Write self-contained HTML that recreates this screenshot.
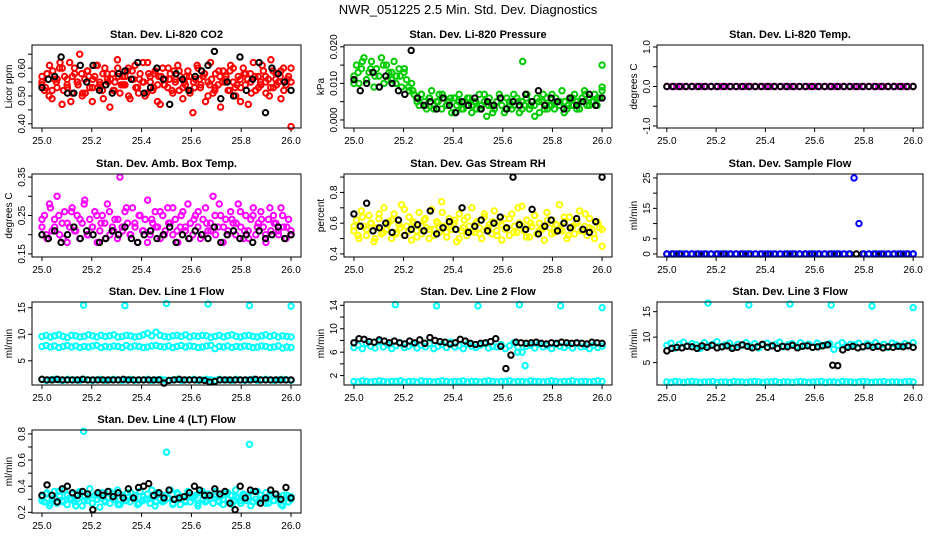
<!DOCTYPE html>
<html><head><meta charset="utf-8"><style>
html,body{margin:0;padding:0;background:#fff;}
svg{display:block;font-family:"Liberation Sans",sans-serif;}
</style></head><body>
<svg id="chart" width="936" height="540" viewBox="0 0 936 540" xmlns="http://www.w3.org/2000/svg">
<rect width="936" height="540" fill="#fff"/>
<text x="468" y="14" text-anchor="middle" font-size="13">NWR_051225  2.5 Min. Std. Dev. Diagnostics</text>
</svg>
<script>
const timeStart = 25.0, timeEnd = 26.0;
const xTicks = [25.0, 25.2, 25.4, 25.6, 25.8, 26.0];
const xTickLabels = ["25.0","25.2","25.4","25.6","25.8","26.0"];
const outlierTimes = [25.167,25.333,25.5,25.667,25.833,26.0];

const co2Red = [0.55,0.52,0.58,0.61,0.49,0.56,0.53,0.60,0.47,0.57,0.54,0.62,0.51,0.58,0.55,0.65,0.50,0.56,0.59,0.53,0.48,0.57,0.61,0.54,0.52,0.60,0.56,0.46,0.58,0.55,0.63,0.51,0.57,0.54,0.59,0.49,0.56,0.61,0.53,0.58,0.55,0.50,0.62,0.57,0.52,0.59,0.54,0.47,0.60,0.56,0.53,0.58,0.51,0.55,0.61,0.57,0.49,0.54,0.59,0.52,0.44,0.56,0.60,0.53,0.57,0.48,0.55,0.62,0.51,0.58,0.54,0.46,0.59,0.56,0.52,0.61,0.55,0.50,0.57,0.53,0.60,0.58,0.47,0.55,0.62,0.52,0.57,0.54,0.59,0.51,0.56,0.63,0.53,0.58,0.55,0.49,0.60,0.54,0.57,0.39];
const co2Red2 = [0.57,0.53,0.50,0.59,0.55,0.62,0.52,0.56,0.48,0.60,0.54,0.58,0.51,0.57,0.53,0.61,0.55,0.49,0.58,0.56,0.52,0.60,0.54,0.57,0.50,0.59,0.53,0.56,0.62,0.51,0.55,0.58,0.48,0.57,0.54,0.60,0.52,0.56,0.59,0.53,0.57,0.51,0.55,0.61,0.54,0.58,0.50,0.56,0.53,0.59,0.55,0.57,0.52,0.60,0.54,0.48,0.58,0.56,0.51,0.57,0.53,0.61,0.55,0.50,0.59,0.54,0.57,0.52,0.56,0.60];
const co2Red3 = [0.54,0.58,0.52,0.56,0.60,0.53,0.57,0.55,0.51,0.59,0.56,0.53,0.58,0.55,0.52,0.57,0.54,0.60,0.56,0.51,0.55,0.58,0.53,0.57,0.54,0.56,0.59,0.52,0.55,0.57,0.53,0.56,0.58,0.54,0.52,0.57,0.55,0.59,0.53,0.56,0.54,0.58,0.52,0.55,0.57,0.53,0.56,0.59,0.54,0.55];
const co2Black = [0.53,0.56,0.57,0.64,0.51,0.51,0.61,0.55,0.61,0.52,0.54,0.51,0.58,0.59,0.56,0.62,0.51,0.53,0.60,0.56,0.47,0.58,0.56,0.52,0.57,0.59,0.61,0.66,0.49,0.55,0.50,0.64,0.52,0.56,0.62,0.44,0.60,0.58,0.55,0.52];

const presGreen = [0.012,0.015,0.010,0.014,0.017,0.011,0.013,0.016,0.009,0.014,0.012,0.017,0.010,0.015,0.013,0.011,0.016,0.012,0.014,0.009,0.013,0.011,0.008,0.010,0.007,0.006,0.004,0.007,0.005,0.003,0.006,0.008,0.004,0.005,0.007,0.003,0.006,0.004,0.005,0.002,0.006,0.004,0.007,0.003,0.005,0.004,0.006,0.002,0.005,0.003,0.007,0.004,0.005,0.001,0.006,0.004,0.003,0.005,0.007,0.004,0.002,0.006,0.005,0.003,0.004,0.006,0.002,0.005,0.004,0.007,0.003,0.005,0.004,0.006,0.002,0.005,0.003,0.006,0.004,0.007,0.003,0.005,0.004,0.008,0.005,0.003,0.006,0.004,0.007,0.005,0.003,0.006,0.008,0.004,0.006,0.005,0.007,0.004,0.006,0.009];
const presGreen2 = [0.010,0.013,0.016,0.011,0.014,0.012,0.009,0.015,0.011,0.013,0.010,0.012,0.014,0.009,0.008,0.005,0.007,0.004,0.006,0.003,0.005,0.007,0.004,0.006,0.002,0.005,0.003,0.006,0.004,0.005,0.003,0.007,0.004,0.002,0.005,0.006,0.003,0.004,0.007,0.005,0.003,0.006,0.004,0.001,0.005,0.007,0.003,0.004,0.006,0.005,0.002,0.004,0.006,0.003,0.005,0.007,0.004,0.005,0.006,0.008];
const presGreenOutT = [25.68, 26.0];
const presGreenOutV = [0.016, 0.015];
const presBlack = [0.011,0.008,0.010,0.013,0.009,0.012,0.010,0.008,0.007,0.019,0.006,0.004,0.005,0.003,0.006,0.004,0.002,0.005,0.004,0.006,0.003,0.005,0.004,0.006,0.003,0.005,0.004,0.007,0.005,0.008,0.004,0.006,0.005,0.003,0.006,0.004,0.005,0.007,0.004,0.006];

const tempMagenta = Array(51).fill(0);
const tempBlack = Array(40).fill(0);

const boxMagenta = [0.22,0.25,0.19,0.28,0.21,0.24,0.30,0.20,0.23,0.26,0.18,0.22,0.27,0.21,0.25,0.19,0.23,0.29,0.20,0.24,0.22,0.26,0.18,0.21,0.25,0.23,0.28,0.20,0.22,0.24,0.19,0.35,0.21,0.26,0.23,0.20,0.27,0.22,0.18,0.25,0.21,0.24,0.29,0.20,0.23,0.26,0.22,0.19,0.25,0.21,0.27,0.23,0.20,0.24,0.18,0.22,0.26,0.21,0.28,0.23,0.20,0.25,0.22,0.19,0.24,0.27,0.21,0.23,0.30,0.20,0.22,0.25,0.18,0.24,0.21,0.26,0.23,0.20,0.28,0.22,0.19,0.25,0.21,0.24,0.27,0.20,0.23,0.26,0.22,0.18,0.24,0.21,0.25,0.23,0.20,0.27,0.22,0.19,0.24,0.21];
const boxMagenta2 = [0.24,0.20,0.27,0.22,0.25,0.19,0.23,0.26,0.21,0.24,0.28,0.20,0.22,0.25,0.23,0.19,0.26,0.21,0.24,0.22,0.27,0.20,0.23,0.25,0.21,0.18,0.24,0.22,0.26,0.20,0.23,0.27,0.21,0.25,0.22,0.19,0.24,0.26,0.20,0.23,0.21,0.25,0.28,0.22,0.20,0.24,0.23,0.26,0.21,0.19,0.25,0.22,0.24,0.20,0.27,0.23,0.21,0.25,0.22,0.20];
const boxBlack = [0.20,0.19,0.21,0.18,0.20,0.22,0.19,0.21,0.20,0.18,0.19,0.21,0.20,0.22,0.19,0.18,0.20,0.21,0.19,0.20,0.22,0.18,0.20,0.19,0.21,0.20,0.19,0.22,0.18,0.20,0.21,0.19,0.20,0.18,0.21,0.19,0.20,0.22,0.19,0.20];

const rhYellow = [0.55,0.62,0.50,0.68,0.58,0.52,0.65,0.60,0.48,0.57,0.63,0.53,0.70,0.56,0.61,0.50,0.66,0.54,0.59,0.72,0.52,0.58,0.64,0.49,0.60,0.55,0.67,0.53,0.62,0.57,0.50,0.69,0.56,0.61,0.54,0.74,0.58,0.51,0.63,0.56,0.60,0.48,0.66,0.55,0.62,0.52,0.58,0.70,0.54,0.61,0.57,0.50,0.64,0.56,0.59,0.53,0.68,0.55,0.61,0.49,0.63,0.57,0.52,0.66,0.58,0.54,0.60,0.71,0.55,0.62,0.51,0.58,0.65,0.53,0.60,0.56,0.49,0.67,0.57,0.62,0.54,0.59,0.72,0.55,0.61,0.50,0.64,0.57,0.53,0.60,0.68,0.55,0.58,0.52,0.63,0.56,0.50,0.61,0.57,0.45];
const rhYellow2 = [0.58,0.52,0.64,0.56,0.60,0.50,0.66,0.54,0.59,0.62,0.53,0.57,0.69,0.55,0.61,0.51,0.58,0.63,0.56,0.52,0.60,0.67,0.54,0.58,0.62,0.50,0.57,0.64,0.55,0.60,0.53,0.66,0.57,0.61,0.52,0.59,0.56,0.63,0.54,0.70,0.58,0.51,0.60,0.65,0.55,0.57,0.62,0.53,0.59,0.56,0.64,0.52,0.58,0.61,0.55,0.66,0.57,0.53,0.60,0.56];
const rhBlack = [0.66,0.58,0.73,0.55,0.57,0.60,0.54,0.62,0.52,0.56,0.59,0.55,0.68,0.53,0.57,0.61,0.56,0.70,0.54,0.58,0.62,0.55,0.60,0.64,0.57,0.90,0.59,0.56,0.69,0.53,0.58,0.62,0.55,0.60,0.57,0.63,0.56,0.54,0.61,0.90];

const flowBlue = [0,0,0,0,0,0,0,0,0,0,0,0,0,0,0,0,0,0,0,0,0,0,0,0,0,0,0,0,0,0,0,0,0,0,0,0,0,0,25,10,0,0,0,0,0,0,0,0,0,0,0];
const flowBlack = Array(40).fill(0);

const l1Upper = [9.6,9.8,9.5,9.7,9.9,9.6,9.4,9.8,9.7,9.5,9.6,9.9,9.7,9.5,9.8,9.6,9.7,9.9,9.5,9.6,9.8,9.7,9.5,9.6,9.9,10.2,9.7,10.4,9.8,9.6,9.5,9.7,9.8,9.6,9.9,9.5,9.7,9.6,9.8,9.7,9.4,9.6,9.8,9.5,9.7,9.9,9.6,9.5,9.7,9.8,9.6,9.5,9.7,9.9,9.6,9.8,9.5,9.7,9.6,9.5];
const l1Lower = [7.7,7.9,7.6,7.8,7.5,7.7,7.9,7.6,7.8,7.5,7.7,7.6,7.8,7.9,7.5,7.7,7.6,7.8,7.7,7.5,7.9,7.6,7.8,7.7,7.5,7.6,7.8,7.9,7.7,7.6,7.8,7.5,7.7,7.9,7.6,7.8,7.7,7.5,7.6,7.8,7.9,7.3,7.7,7.6,7.8,7.5,7.7,7.6,7.8,7.7,7.5,7.6,7.8,7.7,7.5,7.6,7.8,7.4,7.6,7.5];
const l1Bottom = [1.5,1.3,1.4,1.5,1.4,1.3,1.5,1.4,1.4,1.3,1.5,1.4,1.3,1.4,1.5,1.3,1.4,1.5,1.4,1.3,1.4,1.5,1.3,1.4,1.4,1.5,1.3,1.4,1.5,1.4,1.3,1.4,1.5,1.3,1.4,1.4,1.5,1.3,1.4,1.5,1.4,1.3,1.5,1.4,1.4,1.3,1.5,1.4,1.3,1.4,1.5,1.3,1.4,1.5,1.4,1.3,1.4,1.5,1.4,1.3];
const l1Black = [1.5,1.4,1.4,1.5,1.4,1.4,1.4,1.4,1.5,1.4,1.4,1.4,1.4,1.4,1.4,1.4,1.5,1.4,1.4,1.4,1.4,1.4,1.4,1.4,0.8,1.3,1.4,1.5,1.4,1.4,1.4,1.4,1.3,1.0,1.1,1.4,1.4,1.4,1.4,1.4,1.4,1.4,1.5,1.4,1.4,1.4,1.4,1.4,1.4,1.4];
const l1Out = [15.5,15.4,15.8,15.7,15.4,15.3];

const l2Main = [6.8,7.2,6.6,7.5,7.0,6.7,7.8,6.9,7.3,6.6,7.1,7.6,6.8,7.0,7.4,6.7,7.2,6.9,7.5,6.6,7.0,7.3,6.8,7.7,6.9,7.1,6.6,7.4,7.0,6.8,7.2,7.5,6.7,7.0,6.9,7.3,6.6,7.1,7.6,6.8,6.0,7.0,7.2,6.7,7.4,6.9,7.1,6.6,7.3,7.0,6.8,7.2,6.7,7.5,6.9,7.0,6.6,7.2,6.8,7.0];
const l2Low = [1.0,0.9,1.1,1.0,0.9,1.0,1.1,1.0,0.9,1.0,1.0,1.1,0.9,1.0,1.0,0.9,1.1,1.0,1.0,0.9,1.0,1.1,1.0,0.9,1.0,1.0,1.1,0.9,1.0,1.0,0.9,1.0,1.1,1.0,0.9,1.0,1.0,1.1,0.9,1.0,1.0,0.9,1.1,1.0,1.0,0.9,1.0,1.1,1.0,0.9,1.0,1.0,1.1,0.9,1.0,1.0,0.9,1.0,1.1,1.0];
const l2Black = [7.6,8.3,8.2,7.8,7.7,8.1,7.9,7.6,7.9,7.6,7.4,7.9,7.6,8.1,7.5,8.5,8.0,7.8,7.7,7.4,7.6,8.2,7.9,7.5,7.3,7.5,7.6,7.8,8.3,7.0,3.2,5.5,7.7,7.6,7.5,7.6,7.7,7.5,7.4,7.6,7.5,7.7,7.6,7.5,7.6,7.5,7.4,7.7,7.6,7.5];
const l2CyanDipT = [25.66, 25.69];
const l2CyanDipV = [6.0, 3.7];
const l2Out = [14.1,13.9,13.9,14.1,13.9,13.6];

const l3Main = [8.4,8.8,7.9,8.6,9.0,8.2,8.7,8.5,7.8,8.9,8.3,8.6,9.1,8.1,8.5,8.8,8.0,8.6,8.4,8.9,8.2,8.7,7.9,8.5,8.8,8.3,8.6,9.0,8.1,8.5,8.7,8.2,8.9,8.4,8.6,8.0,8.8,8.3,8.5,8.7,7.6,8.4,8.9,8.2,8.6,8.5,8.8,8.1,8.7,8.4,8.9,8.3,8.6,8.0,8.8,8.5,8.2,8.7,8.4,8.9];
const l3Low = [1.2,1.1,1.3,1.2,1.1,1.2,1.3,1.2,1.1,1.2,1.2,1.3,1.1,1.2,1.2,1.1,1.3,1.2,1.2,1.1,1.2,1.3,1.2,1.1,1.2,1.2,1.3,1.1,1.2,1.2,1.1,1.2,1.3,1.2,1.1,1.2,1.2,1.3,1.1,1.2,1.2,1.1,1.3,1.2,1.2,1.1,1.2,1.3,1.2,1.1,1.2,1.2,1.3,1.1,1.2,1.2,1.1,1.2,1.3,1.2];
const l3Black = [7.3,7.8,8.0,7.9,8.2,8.1,7.8,8.3,8.0,8.4,7.9,8.1,8.3,7.8,8.0,8.5,8.2,7.9,8.1,8.6,8.0,8.3,7.8,8.2,8.1,8.4,7.9,8.2,8.3,8.0,8.1,8.3,8.5,4.5,4.4,7.5,8.0,8.2,7.9,8.1,8.3,8.0,8.2,7.9,8.1,8.0,8.2,8.1,8.3,8.0];
const l3Out = [16.7,16.3,16.5,16.3,16.1,15.8];

const l4Cyan = [0.32,0.28,0.35,0.25,0.30,0.36,0.27,0.33,0.29,0.37,0.26,0.31,0.34,0.28,0.30,0.36,0.25,0.32,0.29,0.38,0.27,0.33,0.30,0.24,0.35,0.29,0.31,0.27,0.34,0.30,0.37,0.26,0.32,0.29,0.35,0.28,0.31,0.33,0.26,0.36,0.29,0.30,0.34,0.27,0.32,0.25,0.35,0.30,0.28,0.33,0.31,0.37,0.27,0.30,0.34,0.26,0.32,0.29,0.36,0.28,0.31,0.33,0.25,0.35,0.30,0.28,0.34,0.31,0.27,0.36,0.29,0.32,0.26,0.35,0.30,0.33,0.28,0.37,0.31,0.27,0.34,0.29,0.32,0.25,0.36,0.30,0.28,0.33,0.31,0.35,0.27,0.32,0.29,0.34,0.30,0.26,0.33,0.31,0.28,0.32];
const l4Cyan2 = [0.29,0.34,0.27,0.31,0.36,0.28,0.33,0.30,0.25,0.35,0.29,0.32,0.27,0.34,0.31,0.28,0.36,0.30,0.26,0.33,0.29,0.35,0.31,0.27,0.32,0.30,0.37,0.28,0.34,0.29,0.31,0.26,0.35,0.30,0.28,0.33,0.32,0.27,0.36,0.29,0.31,0.34,0.28,0.30,0.35,0.26,0.32,0.29,0.33,0.31,0.28,0.36,0.30,0.27,0.34,0.29,0.32,0.25,0.33,0.30];
const l4Black = [0.33,0.41,0.33,0.28,0.38,0.40,0.35,0.33,0.36,0.34,0.22,0.35,0.33,0.36,0.32,0.35,0.31,0.38,0.31,0.39,0.40,0.42,0.33,0.35,0.31,0.37,0.30,0.31,0.32,0.35,0.40,0.37,0.33,0.33,0.38,0.34,0.36,0.27,0.22,0.40,0.31,0.37,0.36,0.27,0.31,0.37,0.34,0.30,0.39,0.31];
const l4OutT = [25.167, 25.5, 25.833];
const l4OutV = [0.82, 0.66, 0.72];

const svg = document.getElementById('chart');
const NS = 'http://www.w3.org/2000/svg';
const colLeft = [32, 344, 657], colRight = [301, 612, 923];
const rowTop = [45, 174, 302, 430], boxH = 83;

function mk(tag, attrs, parent) {
  const e = document.createElementNS(NS, tag);
  for (const k in attrs) e.setAttribute(k, attrs[k]);
  (parent || svg).appendChild(e);
  return e;
}

function panel(cfg) {
  const g = mk('g', {});
  
  
  const L = colLeft[cfg.col], R = colRight[cfg.col], T = rowTop[cfg.row], B = T + boxH;
  const w = R - L, xlo = timeStart - 0.04 * (timeEnd - timeStart), xhi = timeEnd + 0.04 * (timeEnd - timeStart);
  const xs = t => L + (t - xlo) / (xhi - xlo) * w;
  const ys = v => B - (v - cfg.ylo) / (cfg.yhi - cfg.ylo) * boxH;
  const title = mk('text', {x: (L + R) / 2, y: T - 7, 'text-anchor': 'middle', 'font-size': 11, 'font-weight': 'bold'}, g);
  title.textContent = cfg.title;
  
  
  const yl = mk('text', {transform: `translate(${L - 20},${(T + B) / 2}) rotate(-90)`, 'text-anchor': 'middle', 'font-size': 10}, g);
  yl.textContent = cfg.ylab;
  
  
  xTicks.forEach((t, i) => {
    mk('line', {x1: xs(t), x2: xs(t), y1: B, y2: B + 4, stroke: '#000'}, g);
    const tl = mk('text', {x: xs(t), y: B + 16, 'text-anchor': 'middle', 'font-size': 10}, g);
    tl.textContent = xTickLabels[i];
    
    
  });
  cfg.yticks.forEach((v, i) => {
    mk('line', {x1: L - 4, x2: L, y1: ys(v), y2: ys(v), stroke: '#000'}, g);
    if (cfg.ylabels[i]) {
      const tl = mk('text', {transform: `translate(${L - 7},${ys(v)}) rotate(-90)`, 'text-anchor': 'middle', 'font-size': 10}, g);
      tl.textContent = cfg.ylabels[i];
      
      
    }
  });
  cfg.series.forEach(s => {
    const vals = s.v;
    vals.forEach((v, i) => {
      const t = s.t ? s.t[i] : timeStart + (timeEnd - timeStart) * i / (vals.length - 1);
      const c = mk('circle', {cx: xs(t), cy: ys(v), r: 2.7, fill: 'none', stroke: s.c, 'stroke-width': 2}, g);
      
      
    });
  });
  const box = mk('rect', {x: L, y: T, width: w, height: boxH, fill: 'none', stroke: '#000', 'stroke-width': 1}, g);
  
  
}

const RED='#ff0000', BLK='#000000', GRN='#00cc00', MAG='#ff00ff', YEL='#ffff00', BLU='#0000ff', CYN='#00ffff';
panel({name:'panel-co2', col:0,row:0,title:'Stan. Dev. Li-820 CO2',ylab:'Licor ppm',ylo:0.385,yhi:0.683,
  yticks:[0.40,0.45,0.50,0.55,0.60,0.65],ylabels:['0.40','','0.50','','0.60',''],
  series:[{v:co2Red,c:RED},{v:co2Red2,c:RED},{v:co2Red3,c:RED},{v:co2Black,c:BLK}]});
panel({name:'panel-pressure', col:1,row:0,title:'Stan. Dev. Li-820 Pressure',ylab:'kPa',ylo:-0.0022,yhi:0.0205,
  yticks:[0,0.005,0.010,0.015,0.020],ylabels:['0.000','','0.010','','0.020'],
  series:[{v:presGreen,c:GRN},{v:presGreen2,c:GRN},{v:presGreenOutV,t:presGreenOutT,c:GRN},{v:presBlack,c:BLK}]});
panel({name:'panel-temp', col:2,row:0,title:'Stan. Dev. Li-820 Temp.',ylab:'degrees C',ylo:-1.05,yhi:1.05,
  yticks:[-1,-0.5,0,0.5,1],ylabels:['-1.0','','0.0','','1.0'],
  series:[{v:tempMagenta,c:MAG},{v:tempBlack,c:BLK}]});
panel({name:'panel-amb-box-temp', col:0,row:1,title:'Stan. Dev. Amb. Box Temp.',ylab:'degrees C',ylo:0.142,yhi:0.358,
  yticks:[0.15,0.20,0.25,0.30,0.35],ylabels:['0.15','','0.25','','0.35'],
  series:[{v:boxMagenta,c:MAG},{v:boxMagenta2,c:MAG},{v:boxBlack,c:BLK}]});
panel({name:'panel-gas-rh', col:1,row:1,title:'Stan. Dev. Gas Stream RH',ylab:'percent',ylo:0.38,yhi:0.92,
  yticks:[0.4,0.5,0.6,0.7,0.8,0.9],ylabels:['0.4','','0.6','','0.8',''],
  series:[{v:rhYellow,c:YEL},{v:rhYellow2,c:YEL},{v:rhBlack,c:BLK}]});
panel({name:'panel-sample-flow', col:2,row:1,title:'Stan. Dev. Sample Flow',ylab:'ml/min',ylo:-1,yhi:26.3,
  yticks:[0,5,10,15,20,25],ylabels:['0','5','','15','','25'],
  series:[{v:flowBlack,c:BLK},{v:flowBlue,c:BLU}]});
panel({name:'panel-line1', col:0,row:2,title:'Stan. Dev. Line 1 Flow',ylab:'ml/min',ylo:0.44,yhi:16.08,
  yticks:[5,10,15],ylabels:['5','10','15'],
  series:[{v:l1Upper,c:CYN},{v:l1Lower,c:CYN},{v:l1Bottom,c:CYN},{v:l1Out,t:outlierTimes,c:CYN},{v:l1Black,c:BLK}]});
panel({name:'panel-line2', col:1,row:2,title:'Stan. Dev. Line 2 Flow',ylab:'ml/min',ylo:0.39,yhi:14.57,
  yticks:[2,4,6,8,10,12,14],ylabels:['2','','6','','10','','14'],
  series:[{v:l2Main,c:CYN},{v:l2Low,c:CYN},{v:l2Out,t:outlierTimes,c:CYN},{v:l2CyanDipV,t:l2CyanDipT,c:CYN},{v:l2Black,c:BLK}]});
panel({name:'panel-line3', col:2,row:2,title:'Stan. Dev. Line 3 Flow',ylab:'ml/min',ylo:0.6,yhi:16.9,
  yticks:[5,10,15],ylabels:['5','10','15'],
  series:[{v:l3Main,c:CYN},{v:l3Low,c:CYN},{v:l3Out,t:outlierTimes,c:CYN},{v:l3Black,c:BLK}]});
panel({name:'panel-line4', col:0,row:3,title:'Stan. Dev. Line 4 (LT) Flow',ylab:'ml/min',ylo:0.195,yhi:0.83,
  yticks:[0.2,0.3,0.4,0.5,0.6,0.7,0.8],ylabels:['0.2','','0.4','','0.6','','0.8'],
  series:[{v:l4Cyan,c:CYN},{v:l4Cyan2,c:CYN},{v:l4OutV,t:l4OutT,c:CYN},{v:l4Black,c:BLK}]});
</script>
</body></html>
